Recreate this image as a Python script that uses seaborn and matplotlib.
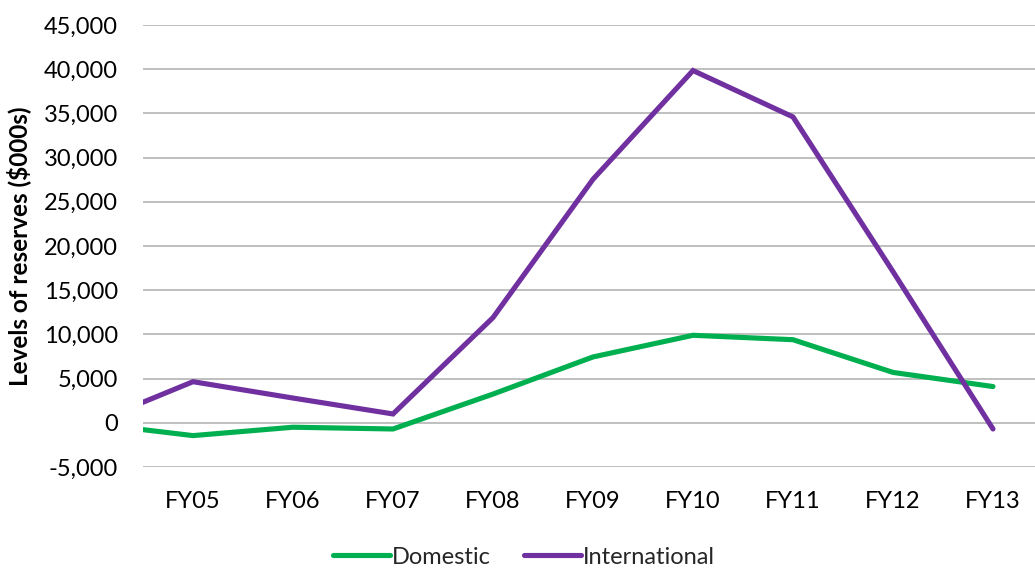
import matplotlib
matplotlib.use("Agg")
import matplotlib.pyplot as plt
import seaborn as sns
import pandas as pd
import numpy as np
from matplotlib.ticker import FuncFormatter, MultipleLocator
from matplotlib.lines import Line2D

# Data (FY04 is only partly visible at the left edge of the plot)
years = ["FY04", "FY05", "FY06", "FY07", "FY08", "FY09", "FY10", "FY11", "FY12", "FY13"]
domestic = [-100, -1450, -500, -700, 3250, 7450, 9900, 9400, 5700, 4100]
international = [0, 4650, 2800, 1000, 11900, 27550, 39850, 34600, 17100, -700]
tick_labels = ["FY05", "FY06", "FY07", "FY08", "FY09", "FY10", "FY11", "FY12", "FY13"]

series_names = ["Domestic", "International"]
colors = {"Domestic": "#00B050", "International": "#7030A0"}

pos = list(range(-1, len(years) - 1))  # FY05 at 0
df = pd.DataFrame({
    "pos": pos * 2,
    "value": domestic + international,
    "series": ["Domestic"] * len(years) + ["International"] * len(years),
})

sns.set_theme(style="white")
plt.rcParams["font.family"] = ["Lato", "DejaVu Sans"]

fig = plt.figure(figsize=(10.35, 5.68), dpi=100)
ax = fig.add_axes([143 / 1035, 1 - 467 / 568, 1 - 143 / 1035, (467 - 25) / 568])

sns.lineplot(data=df, x="pos", y="value", hue="series", hue_order=series_names,
             palette=colors, linewidth=3.7, ax=ax, legend=False, sort=True)
for ln in ax.get_lines():
    ln.set_solid_capstyle("round")
    ln.set_solid_joinstyle("miter")

ax.set_xlim(-0.5, 8.42)
ax.set_ylim(-5000, 45000)
ax.yaxis.set_major_locator(MultipleLocator(5000))
ax.yaxis.set_major_formatter(FuncFormatter(lambda v, p: f"{int(v):,}"))
ax.set_xticks(range(len(tick_labels)))
ax.set_xticklabels(tick_labels)
ax.grid(axis="y", color="#BFBFBF", linewidth=1.4)
ax.grid(axis="x", visible=False)
ax.set_axisbelow(True)
for s in ax.spines.values():
    s.set_visible(False)
ax.tick_params(axis="y", length=0, pad=18, labelsize=17, labelcolor="#000000")
ax.tick_params(axis="x", length=0, pad=17, labelsize=17, labelcolor="#000000")
ax.set_xlabel("")
ax.set_ylabel("Levels of reserves ($000s)", fontsize=17.5, fontweight="bold", color="#000000")
ax.yaxis.set_label_coords(-112 / 892, 0.5)

handles = [Line2D([0], [0], color=colors[n], linewidth=3.7, solid_capstyle="round") for n in series_names]
fig.legend(handles, series_names, loc="center", bbox_to_anchor=(524 / 1035, 1 - 557 / 568),
           ncol=2, frameon=False, fontsize=17, handlelength=2.4, handletextpad=0.1,
           columnspacing=1.4, borderaxespad=0)

fig.savefig("out.png", dpi=100)
